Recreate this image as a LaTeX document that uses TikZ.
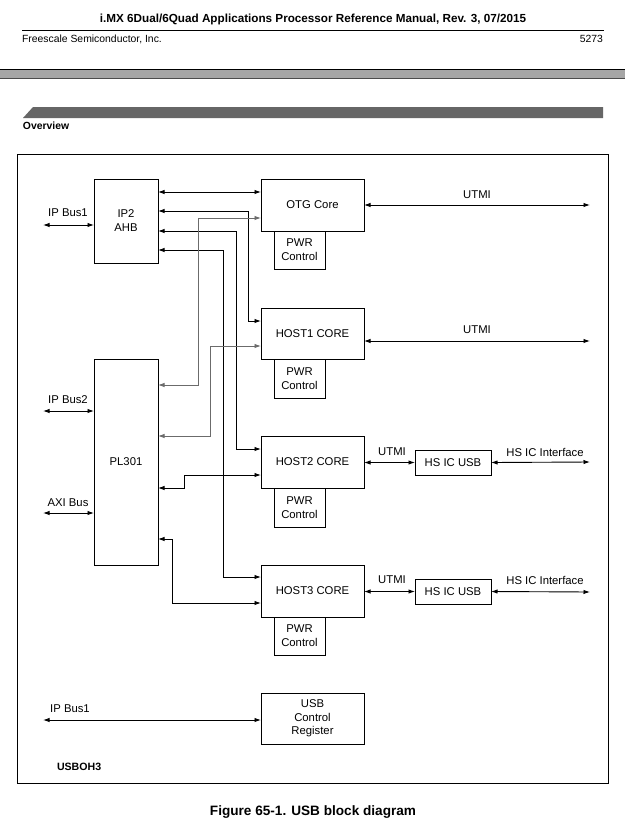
\documentclass[tikz,border=0pt]{standalone}
\usepackage{fontspec}
\setmainfont{Liberation Sans}
\usetikzlibrary{arrows.meta}
\begin{document}
\begin{tikzpicture}[x=1pt,y=-1pt,
  every node/.style={inner sep=0pt, outer sep=0pt},
  box/.style={draw, line width=0.9pt, anchor=north west, align=center, font=\fontsize{11.3}{14}\selectfont},
  lbl/.style={font=\fontsize{11.3}{13}\selectfont},
  tip/.tip={Latex[length=6.5pt,width=4.4pt]},
  bi/.style={line width=0.9pt, tip-tip},
  gbi/.style={line width=0.9pt, tip-tip, color=black!58},
]
\useasboundingbox (0,0) rectangle (625,822);
\fill[white] (0,0) rectangle (625,822);

% ---------- page header ----------
\node[font=\bfseries\fontsize{11.7}{14}\selectfont] (title) at (313,19) {i.MX 6Dual/6Quad Applications Processor Reference Manual, Rev. 3, 07/2015};
\draw[line width=0.7pt] (22,30) -- (604,30);
\node[anchor=west, font=\fontsize{10.4}{12}\selectfont] (company) at (22,39) {Freescale Semiconductor, Inc.};
\node[anchor=east, font=\fontsize{10.4}{12}\selectfont] (page) at (603,39) {5273};
\fill[black!35] (0,70.3) rectangle (625,77.7);
\draw[line width=1.6pt] (0,69.5) -- (625,69.5);
\draw[line width=1pt, black!70] (0,78) -- (625,78);
\fill[black!60] (23,118) -- (33,107) -- (603,107) -- (603,118) -- cycle;
\node[anchor=west, font=\bfseries\fontsize{10.4}{12}\selectfont] (overview) at (23,126) {Overview};

% ---------- frame ----------
\draw[line width=0.9pt] (17,154) rectangle (608,783);

% ---------- blocks ----------
\node[box, minimum width=64pt, minimum height=84pt] (ip2) at (94,179) {IP2\\AHB};
\node[box, minimum width=64pt, minimum height=206pt] (pl301) at (94,359) {PL301};

\node[box, minimum width=103pt, minimum height=52pt] (otg) at (261,179) {OTG Core};
\node[box, minimum width=51pt, minimum height=38pt] (pwr0) at (274,231) {PWR\\Control};
\node[box, minimum width=103pt, minimum height=51pt] (host1) at (261,308) {HOST1 CORE};
\node[box, minimum width=51pt, minimum height=39pt] (pwr1) at (274,359) {PWR\\Control};
\node[box, minimum width=103pt, minimum height=52pt] (host2) at (261,436) {HOST2 CORE};
\node[box, minimum width=51pt, minimum height=39pt] (pwr2) at (274,488) {PWR\\Control};
\node[box, minimum width=103pt, minimum height=52pt] (host3) at (261,565) {HOST3 CORE};
\node[box, minimum width=51pt, minimum height=38pt] (pwr3) at (274,617) {PWR\\Control};

\node[box, minimum width=76pt, minimum height=25pt] (hsic2) at (415,450) {HS IC USB};
\node[box, minimum width=76pt, minimum height=25pt] (hsic3) at (415,579) {HS IC USB};

\node[box, font=\fontsize{11.3}{13.5}\selectfont, minimum width=103pt, minimum height=51pt] (usbctl) at (261,693) {USB\\Control\\Register};

\node[anchor=west, font=\bfseries\fontsize{10.6}{12}\selectfont] (usboh3) at (57,767) {USBOH3};

% ---------- free ends ----------
\coordinate (ipb1) at (43,225);
\coordinate (ipb2) at (43,411);
\coordinate (axi) at (43,513);
\coordinate (ipb1b) at (43,720);
\coordinate (utmi0) at (590,205);
\coordinate (utmi1) at (590,341);
\coordinate (hsif2) at (590,462);
\coordinate (hsif3) at (590,592);

% ---------- external buses ----------
\draw[bi] (ipb1) -- (ipb1 -| ip2.west);
\node[lbl] (l_ipb1) at (68,213) {IP Bus1};
\draw[bi] (ipb2) -- (ipb2 -| pl301.west);
\node[lbl] (l_ipb2) at (68,400) {IP Bus2};
\draw[bi] (axi) -- (axi -| pl301.west);
\node[lbl] (l_axi) at (68,503) {AXI Bus};
\draw[bi] (ipb1b) -- (ipb1b -| usbctl.west);
\node[lbl] (l_ipb1b) at (70,709) {IP Bus1};

\draw[bi] (otg.east |- utmi0) -- (utmi0);
\node[lbl] (l_u0) at (477,195) {UTMI};
\draw[bi] (host1.east |- utmi1) -- (utmi1);
\node[lbl] (l_u1) at (477,330) {UTMI};

\draw[bi] (host2.east |- hsic2.west) -- (hsic2.west);
\node[lbl] (l_u2) at (392,452) {UTMI};
\draw[bi] (hsic2.east) -- (hsif2);
\node[lbl] (l_h2) at (545,452) {HS IC Interface};
\draw[bi] (host3.east |- hsic3.west) -- (hsic3.west);
\node[lbl] (l_u3) at (392,580) {UTMI};
\draw[bi] (hsic3.east) -- (hsif3);
\node[lbl] (l_h3) at (545,580) {HS IC Interface};

% ---------- internal connections ----------
\draw[bi] (ip2.east |- 0,192) -- (otg.west |- 0,192);
\draw[bi] (ip2.east |- 0,211) -| (248,321) -- (host1.west |- 0,321);
\draw[bi] (ip2.east |- 0,231) -| (236,449) -- (host2.west |- 0,449);
\draw[bi] (ip2.east |- 0,250) -| (223,577) -- (host3.west |- 0,577);

\draw[gbi] (otg.west |- 0,218) -| (198,385) -- (pl301.east |- 0,385);
\draw[gbi] (host1.west |- 0,346) -| (210,436) -- (pl301.east |- 0,436);

\draw[bi] (host2.west |- 0,475) -| (184,488) -- (pl301.east |- 0,488);
\draw[bi] (pl301.east |- 0,539) -| (172,603) -- (host3.west |- 0,603);

% ---------- caption ----------
\node[font=\bfseries\fontsize{13.6}{16}\selectfont] (caption) at (313,812) {Figure 65-1. USB block diagram};
\end{tikzpicture}
\end{document}
